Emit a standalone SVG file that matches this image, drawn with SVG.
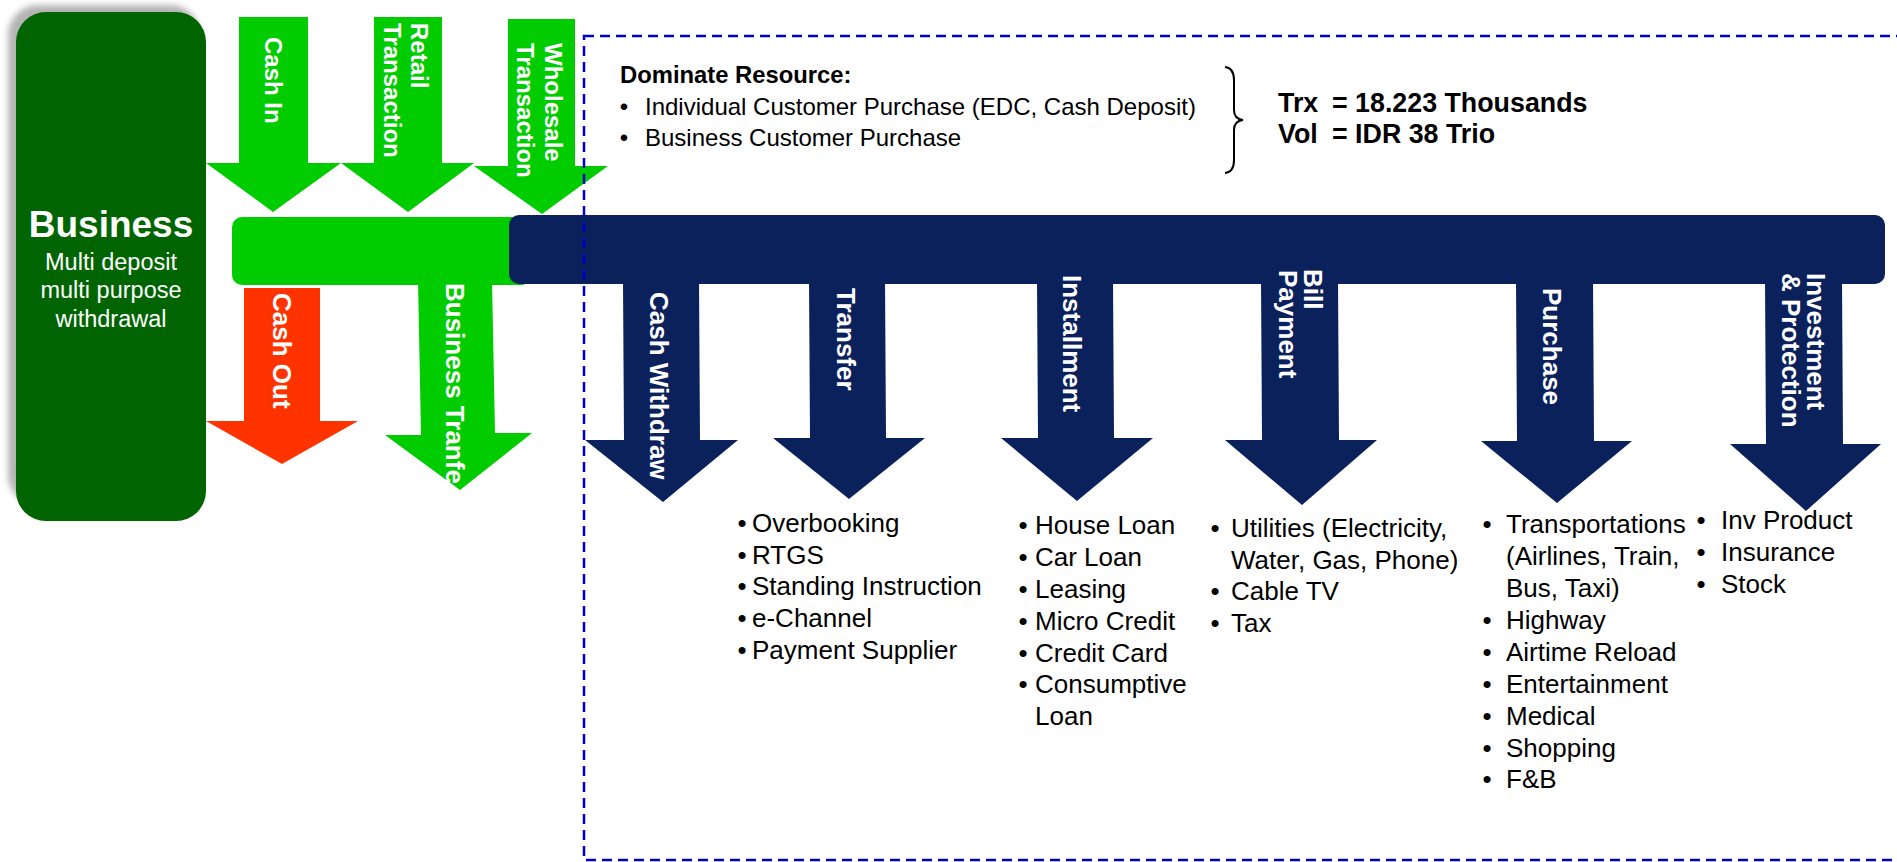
<svg xmlns="http://www.w3.org/2000/svg" width="1897" height="862" viewBox="0 0 1897 862">
<style>
  .t { font-family: "Liberation Sans", Arial, sans-serif; }
  .wb { font-family: "Liberation Sans", Arial, sans-serif; font-weight: bold; fill: #fff; }
  .lst { font-family: "Liberation Sans", Arial, sans-serif; font-size: 26px; fill: #000; }
  .bul { font-family: "Liberation Sans", Arial, sans-serif; font-size: 26px; fill: #000; text-anchor: middle; }
  .navy { fill: #0B215C; }
  .green { fill: #00CC00; }
</style>
<defs>
  <filter id="sh" x="-20%" y="-20%" width="140%" height="140%">
    <feGaussianBlur stdDeviation="3"/>
  </filter>
</defs>
<rect width="1897" height="862" fill="#fff"/>

<g id="business">
  <rect x="8" y="5" width="192" height="500" rx="30" fill="#b4b4b4" filter="url(#sh)"/>
  <rect x="16" y="12" width="190" height="509" rx="30" fill="#006400"/>
  <text class="wb" x="111" y="237" font-size="37" text-anchor="middle">Business</text>
  <text class="t" x="111" y="270" font-size="23.5" fill="#fff" text-anchor="middle">Multi deposit</text>
  <text class="t" x="111" y="298" font-size="23.5" fill="#fff" text-anchor="middle">multi purpose</text>
  <text class="t" x="111" y="327" font-size="23.5" fill="#fff" text-anchor="middle">withdrawal</text>
</g>

<g id="green-bar">
  <rect x="232" y="217" width="300" height="68" rx="10" class="green"/>
</g>

<g id="connectors">
  <g id="cash-in">
    <path class="green" d="M239,17 L308,17 L308,163 L341,163 L273,212 L206,163 L239,163 Z"/>
    <text class="wb" font-size="24" transform="translate(265,37) rotate(90)">Cash In</text>
  </g>
  <g id="retail-transaction">
    <path class="green" d="M374,17 L442,17 L442,163 L474,163 L408,212 L341,163 L374,163 Z"/>
    <text class="wb" font-size="24" transform="translate(411,23) rotate(90)">Retail</text>
    <text class="wb" font-size="24" transform="translate(384,23) rotate(90)">Transaction</text>
  </g>
  <g id="wholesale-transaction">
    <path class="green" d="M508,19 L575,19 L575,166 L608,166 L542,214 L474,166 L508,166 Z"/>
    <text class="wb" font-size="24" transform="translate(545,43) rotate(90)">Wholesale</text>
    <text class="wb" font-size="24" transform="translate(517,43) rotate(90)">Transaction</text>
  </g>
  <g id="cash-out">
    <path fill="#FF3300" d="M244,288 L320,288 L320,421 L358,421 L282,464 L206,421 L244,421 Z"/>
    <text class="wb" font-size="26" transform="translate(273,293) rotate(90)">Cash Out</text>
  </g>
  <g id="business-transfer">
    <path class="green" d="M418,280 L492,280 L495,433 L532,433 L460,490 L385,435 L421,435 Z"/>
    <text class="wb" font-size="26" transform="translate(446,283) rotate(90)">Business Tranfe</text>
  </g>
</g>

<g id="navy-bar">
  <rect x="509" y="215" width="1376" height="69" rx="10" class="navy"/>
</g>

<g id="outflows">
  <g id="cash-withdraw">
    <path class="navy" d="M623,280 L699,280 L700,440 L738,440 L663,502 L585,440 L624,440 Z"/>
    <text class="wb" font-size="26" transform="translate(650,292) rotate(90)">Cash Withdraw</text>
  </g>
  <g id="transfer">
    <path class="navy" d="M809,280 L885,280 L886,438 L925,438 L849,499 L773,438 L810,438 Z"/>
    <text class="wb" font-size="26" transform="translate(837,288) rotate(90)">Transfer</text>
  </g>
  <g id="installment">
    <path class="navy" d="M1037,280 L1113,280 L1114,438 L1153,438 L1077,501 L1001,438 L1038,438 Z"/>
    <text class="wb" font-size="26" transform="translate(1063,275) rotate(90)">Installment</text>
  </g>
  <g id="bill-payment">
    <path class="navy" d="M1261,280 L1338,280 L1339,440 L1377,440 L1302,505 L1225,440 L1262,440 Z"/>
    <text class="wb" font-size="26" transform="translate(1304,269) rotate(90)">Bill</text>
    <text class="wb" font-size="26" transform="translate(1279,270) rotate(90)">Payment</text>
  </g>
  <g id="purchase">
    <path class="navy" d="M1516,280 L1593,280 L1594,441 L1632,441 L1557,503 L1481,441 L1517,441 Z"/>
    <text class="wb" font-size="26" transform="translate(1543,288) rotate(90)">Purchase</text>
  </g>
  <g id="investment-protection">
    <path class="navy" d="M1765,280 L1842,280 L1843,444 L1881,444 L1806,511 L1730,444 L1766,444 Z"/>
    <text class="wb" font-size="26" transform="translate(1807,273) rotate(90)">Investment</text>
    <text class="wb" font-size="26" transform="translate(1782,273) rotate(90)">&amp; Protection</text>
  </g>
</g>

<g id="dominate-resource">
  <text class="t" x="620" y="83" font-size="23.8" font-weight="bold" fill="#000">Dominate Resource:</text>
  <text class="t" x="624" y="115" font-size="24" fill="#000" text-anchor="middle">•</text>
  <text class="t" x="645" y="115" font-size="24" fill="#000">Individual Customer Purchase (EDC, Cash Deposit)</text>
  <text class="t" x="624" y="146" font-size="24" fill="#000" text-anchor="middle">•</text>
  <text class="t" x="645" y="146" font-size="24" fill="#000">Business Customer Purchase</text>
  <path d="M1225,67 Q1234,68 1234,80 L1234,110 Q1234,119 1243,120 Q1234,121 1234,130 L1234,160 Q1234,172 1225,173" fill="none" stroke="#000" stroke-width="2"/>
</g>

<g id="totals">
  <text class="t" font-size="26.8" font-weight="bold" fill="#000" y="112"><tspan x="1278">Trx</tspan><tspan x="1332">= 18.223 Thousands</tspan></text>
  <text class="t" font-size="26.8" font-weight="bold" fill="#000" y="143"><tspan x="1278">Vol</tspan><tspan x="1332">= IDR 38 Trio</tspan></text>
</g>

<g id="list-transfer">
  <text class="bul" x="742" y="532">•</text><text class="lst" x="752" y="532">Overbooking</text>
  <text class="bul" x="742" y="564">•</text><text class="lst" x="752" y="564">RTGS</text>
  <text class="bul" x="742" y="595">•</text><text class="lst" x="752" y="595">Standing Instruction</text>
  <text class="bul" x="742" y="627">•</text><text class="lst" x="752" y="627">e-Channel</text>
  <text class="bul" x="742" y="659">•</text><text class="lst" x="752" y="659">Payment Supplier</text>
</g>

<g id="list-installment">
  <text class="bul" x="1023" y="534">•</text><text class="lst" x="1035" y="534">House Loan</text>
  <text class="bul" x="1023" y="566">•</text><text class="lst" x="1035" y="566">Car Loan</text>
  <text class="bul" x="1023" y="598">•</text><text class="lst" x="1035" y="598">Leasing</text>
  <text class="bul" x="1023" y="630">•</text><text class="lst" x="1035" y="630">Micro Credit</text>
  <text class="bul" x="1023" y="662">•</text><text class="lst" x="1035" y="662">Credit Card</text>
  <text class="bul" x="1023" y="693">•</text><text class="lst" x="1035" y="693">Consumptive</text>
  <text class="lst" x="1035" y="725">Loan</text>
</g>

<g id="list-bill">
  <text class="bul" x="1215" y="537">•</text><text class="lst" x="1231" y="537">Utilities (Electricity,</text>
  <text class="lst" x="1231" y="569">Water, Gas, Phone)</text>
  <text class="bul" x="1215" y="600">•</text><text class="lst" x="1231" y="600">Cable TV</text>
  <text class="bul" x="1215" y="632">•</text><text class="lst" x="1231" y="632">Tax</text>
</g>

<g id="list-purchase">
  <text class="bul" x="1487" y="533">•</text><text class="lst" x="1506" y="533">Transportations</text>
  <text class="lst" x="1506" y="565">(Airlines, Train,</text>
  <text class="lst" x="1506" y="597">Bus, Taxi)</text>
  <text class="bul" x="1487" y="629">•</text><text class="lst" x="1506" y="629">Highway</text>
  <text class="bul" x="1487" y="661">•</text><text class="lst" x="1506" y="661">Airtime Reload</text>
  <text class="bul" x="1487" y="693">•</text><text class="lst" x="1506" y="693">Entertainment</text>
  <text class="bul" x="1487" y="725">•</text><text class="lst" x="1506" y="725">Medical</text>
  <text class="bul" x="1487" y="757">•</text><text class="lst" x="1506" y="757">Shopping</text>
  <text class="bul" x="1487" y="788">•</text><text class="lst" x="1506" y="788">F&amp;B</text>
</g>

<g id="list-investment">
  <text class="bul" x="1701" y="529">•</text><text class="lst" x="1721" y="529">Inv Product</text>
  <text class="bul" x="1701" y="561">•</text><text class="lst" x="1721" y="561">Insurance</text>
  <text class="bul" x="1701" y="593">•</text><text class="lst" x="1721" y="593">Stock</text>
</g>

<g id="scope-frame">
  <rect x="584" y="36" width="1330" height="824" fill="none" stroke="#0000CC" stroke-width="2.5" stroke-dasharray="10 6"/>
</g>
</svg>
